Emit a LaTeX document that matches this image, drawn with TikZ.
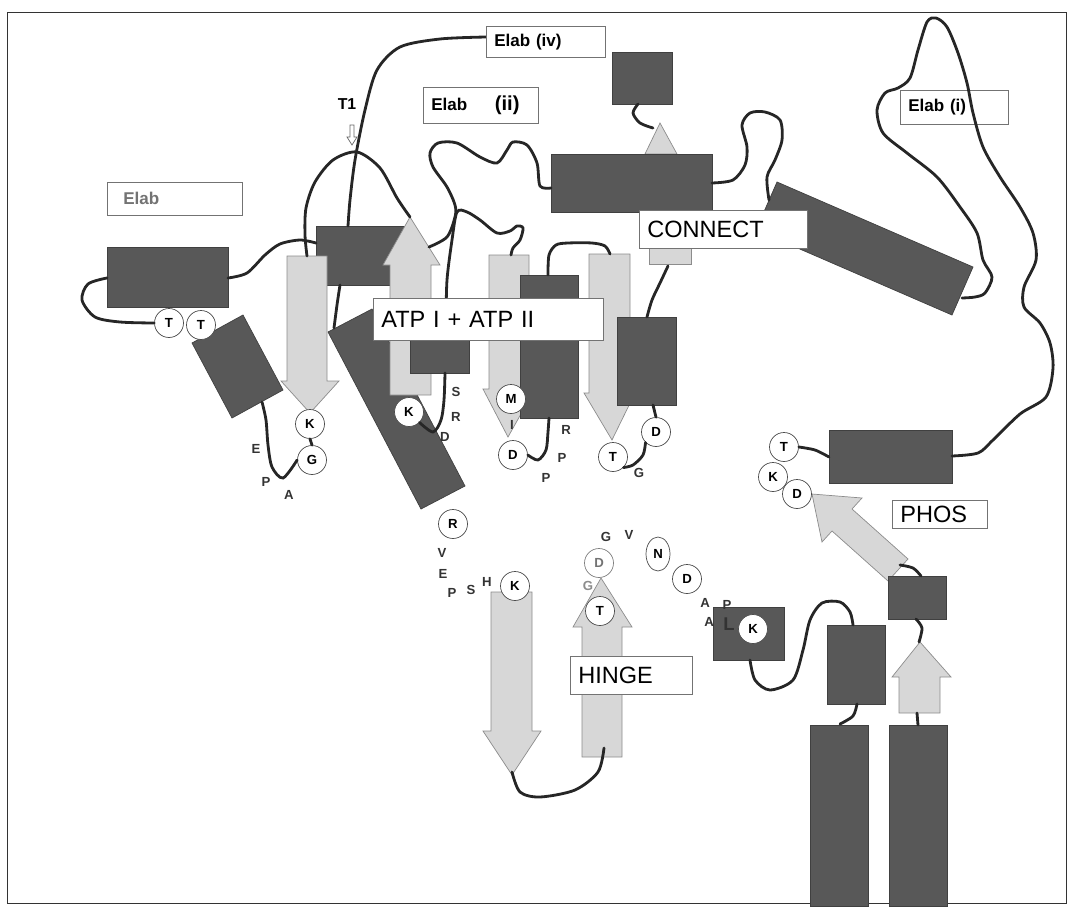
\documentclass[tikz,border=0pt]{standalone}
\usepackage{fontspec}
\setmainfont{Liberation Sans}
\usetikzlibrary{shapes.geometric}
\definecolor{hxfill}{RGB}{88,88,88}
\definecolor{stfill}{RGB}{215,215,215}

\begin{document}
\begin{tikzpicture}[x=0.02cm,y=-0.02cm,
  helix/.style={fill=hxfill,draw=black!75,thin},
  strand/.style={fill=stfill,draw=black!45,thin},
  chain/.style={line width=1.6pt,black!85,line cap=round},
  res/.style={circle,draw=black!70,fill=white,inner sep=0pt,minimum size=0.58cm,
    font=\bfseries\fontsize{7.5}{8}\selectfont},
  aa/.style={inner sep=0pt,font=\bfseries\fontsize{7.5}{8}\selectfont,text=black!80},
  lbl/.style={draw=black!55,fill=white,anchor=north west,inner xsep=0.16cm,inner ysep=0pt,
    align=left,font=\fontsize{13.4}{15}\selectfont},
  elab/.style={lbl,font=\bfseries\fontsize{9.7}{11}\selectfont}]

\useasboundingbox (0,0) rectangle (1071,906);
\draw[black!80] (7,12) rectangle (1066,903);

% helices and strands, back to front
\draw[helix] (316,226) rectangle (405,285);
\draw[helix] (328,332)--(372,309)--(465,486)--(421,509)--cycle;
\draw[helix] (192,343)--(243,315)--(283,390)--(232,418)--cycle;
\draw[helix] (107,247) rectangle (228,307);
\draw[strand] (287,256)--(327,256)--(327,381)--(339,381)--(310,413)--(281,381)--(287,381)--cycle;
\draw[strand] (390,395)--(431,395)--(431,265)--(440,265)--(410,217)--(383,265)--(390,265)--cycle;
\draw[helix] (410,322) rectangle (469,373);
\draw[strand] (489,255)--(529,255)--(529,389)--(535,389)--(508,437)--(483,389)--(489,389)--cycle;
\draw[helix] (520,275) rectangle (578,418);
\draw[strand] (589,254)--(630,254)--(630,393)--(635,393)--(612,440)--(584,393)--(589,393)--cycle;
\draw[helix] (617,317) rectangle (676,405);
\draw[strand] (645,154)--(660,123)--(677,154)--cycle;
\draw[helix] (551,154) rectangle (712,212);
\draw[helix] (612,52) rectangle (672,104);
\draw[helix] (777,182)--(973,267)--(952,315)--(756,230)--cycle;
\draw[strand] (649,240) rectangle (691,264);
\draw[helix] (829,430) rectangle (952,483);
\draw[strand] (908,559)--(852,509)--(862,498)--(812,494)--(822,542)--(832,531)--(888,581)--cycle;
\draw[helix] (888,576) rectangle (946,619);
\draw[strand] (899,713)--(940,713)--(940,677)--(951,677)--(920,642)--(892,677)--(899,677)--cycle;
\draw[helix] (713,607) rectangle (784,660);
\draw[helix] (827,625) rectangle (885,704);
\draw[helix] (810,725) rectangle (868,906);
\draw[helix] (889,725) rectangle (947,906);
\draw[strand] (491,592)--(532,592)--(532,731)--(541,731)--(512,775)--(483,731)--(491,731)--cycle;
\draw[strand] (582,757)--(622,757)--(622,627)--(632,627)--(601,578)--(573,627)--(582,627)--cycle;

\node[elab,text width=1.84cm,minimum height=0.68cm] (elabi) at (900,90) {Elab (i)};

% residues
\node[res] (t1) at (169,323) {T};
\node[res] (t2) at (201,325) {T};
\node[res] (k1) at (310,424) {K};
\node[res] (g1) at (312,460) {G};
\node[res] (k2) at (409,412) {K};
\node[res] (m1) at (511,399) {M};
\node[res] (d1) at (513,455) {D};
\node[res] (t3) at (613,457) {T};
\node[res] (d2) at (656,432) {D};
\node[res] (r1) at (453,524) {R};
\node[res] (k3) at (515,586) {K};
\node[res,draw=black!50,text=black!55] (d3) at (599,563) {D};
\node[res] (t4) at (600,611) {T};
\node[res,ellipse,minimum width=0.48cm,minimum height=0.68cm] (n1) at (658,554) {N};
\node[res] (d4) at (687,579) {D};
\node[res] (k4) at (753,629) {K};
\node[res] (t5) at (784,447) {T};
\node[res] (k5) at (773,477) {K};
\node[res] (d5) at (797,494) {D};

% loops
\draw[chain] plot[smooth] coordinates {(107,278) (88,284) (82,300) (95,317) (120,322) (t1.west)};
\draw[chain] plot[smooth] coordinates {(228,278) (247,273) (265,255) (280,244) (300,240) (316,243)};
\draw[chain] plot[smooth] coordinates {(410,217) (397,198) (380,168) (357,152) (333,160) (315,182) (306,208) (305,235) (307,256)};
\draw[chain] plot[smooth] coordinates {(486,37) (440,39) (400,47) (377,70) (365,110) (355,160) (350,200) (348,226)};
\draw[chain] plot[smooth] coordinates {(340,285) (337,305) (334,328)};
\draw[chain] plot[smooth] coordinates {(429,247) (447,237) (455,217) (455,205) (447,187) (433,167) (430,153) (438,143) (457,143) (480,157) (497,163) (507,150) (513,142) (527,145) (537,163) (540,186) (551,188)};
\draw[chain] plot[smooth] coordinates {(446,322) (447,280) (452,240) (457,212) (467,212) (480,220) (497,233) (510,231) (517,226) (523,228) (520,240) (513,248) (511,255)};
\draw[chain] plot[smooth] coordinates {(445,373) (444,400) (441,420) (433,432) (k2.south east)};
\draw[chain] plot[smooth] coordinates {(548,275) (549,255) (556,245) (568,243) (592,243) (605,246) (610,254)};
\draw[chain] plot[smooth] coordinates {(d1.east) (538,460) (546,450) (548,432) (549,418)};
\draw[chain] plot[smooth] coordinates {(t3.south east) (633,465) (643,455) (d2.south west)};
\draw[chain] (653,405) -- (d2.north);
\draw[chain] plot[smooth] coordinates {(647,317) (652,300) (660,283) (668,266)};
\draw[chain] plot[smooth] coordinates {(712,183) (733,180) (745,165) (747,147) (742,125) (750,113) (765,112) (780,120) (782,140) (775,160) (767,177) (769,200)};
\draw[chain] plot[smooth] coordinates {(638,104) (633,113) (640,123) (653,128)};
\draw[chain] plot[smooth] coordinates {(962,298) (975,297) (985,293) (992,277) (983,260) (977,233) (960,207) (937,177) (907,153) (883,133) (877,110) (885,93) (898,88) (910,78) (918,50) (927,22) (936,18) (947,27) (958,53) (967,83) (973,113) (983,147) (1000,177) (1020,207) (1033,233) (1036,260) (1024,287) (1024,307) (1040,323) (1050,343) (1053,368) (1046,397) (1020,414) (993,440) (978,453) (952,456)};
\draw[chain] plot[smooth] coordinates {(829,457) (815,450) (t5.east)};
\draw[chain] plot[smooth] coordinates {(750,660) (755,680) (770,690) (793,680) (803,650) (810,620) (822,603) (840,602) (850,612) (853,625)};
\draw[chain] plot[smooth] coordinates {(857,704) (853,716) (840,724)};
\draw[chain] plot[smooth] coordinates {(900,565) (913,568) (921,576)};
\draw[chain] plot[smooth] coordinates {(916,619) (922,628) (919,642)};
\draw[chain] (917,713) -- (918,725);
\draw[chain] plot[smooth] coordinates {(512,772) (520,792) (540,797) (575,790) (598,772) (604,748)};
\draw[chain] (k1.south) -- (g1.north);
\draw[chain] plot[smooth] coordinates {(262,402) (266,420) (268,445) (272,467) (283,478) (g1.west)};

% labels
\node[elab,text width=2.38cm,minimum height=0.66cm,text=black!55] (elab) at (107,182) {\hspace{0.16cm}Elab};
\node[elab,text width=2.06cm,minimum height=0.62cm] (elabiv) at (486,26) {Elab (iv)};
\node[elab,text width=1.98cm,minimum height=0.72cm] (elabii) at (423,87) {Elab\hspace{0.55cm}{\fontsize{11.5}{12}\selectfont(ii)}};
\node[lbl,text width=3.04cm,minimum height=0.76cm] (connect) at (639,210) {CONNECT};
\node[lbl,text width=4.28cm,minimum height=0.84cm] (atp) at (373,298) {ATP I + ATP II};
\node[lbl,text width=2.12cm,minimum height=0.76cm] (hinge) at (570,656) {HINGE};
\node[lbl,text width=1.58cm,minimum height=0.56cm] (phos) at (892,500) {PHOS};

\node[font=\bfseries\fontsize{9}{10}\selectfont,inner sep=0pt] (tone) at (347,104) {T1};
\draw[black!60,fill=white] (350,125)--(354,125)--(354,137)--(357,137)--(352,145)--(347,137)--(350,137)--cycle;

% loose residues
\node[aa] (e1) at (256,449) {E};
\node[aa] (p1) at (266,482) {P};
\node[aa] (a1) at (289,495) {A};
\node[aa] (s1) at (456,392) {S};
\node[aa] (r2) at (456,417) {R};
\node[aa] (d6) at (445,437) {D};
\node[aa] (i1) at (512,425) {I};
\node[aa] (r3) at (566,430) {R};
\node[aa] (p2) at (562,458) {P};
\node[aa] (p3) at (546,478) {P};
\node[aa] (g2) at (639,473) {G};
\node[aa] (v1) at (442,553) {V};
\node[aa] (e2) at (443,574) {E};
\node[aa] (p4) at (452,593) {P};
\node[aa] (s2) at (471,590) {S};
\node[aa] (h1) at (487,582) {H};
\node[aa] (g3) at (606,537) {G};
\node[aa] (v2) at (629,535) {V};
\node[aa,text=black!45] (g4) at (588,586) {G};
\node[aa] (a2) at (705,603) {A};
\node[aa] (p5) at (727,605) {P};
\node[aa] (a3) at (709,622) {A};
\node[aa,font=\bfseries\fontsize{10.5}{11}\selectfont] (l1) at (729,624) {L};
\end{tikzpicture}
\end{document}
